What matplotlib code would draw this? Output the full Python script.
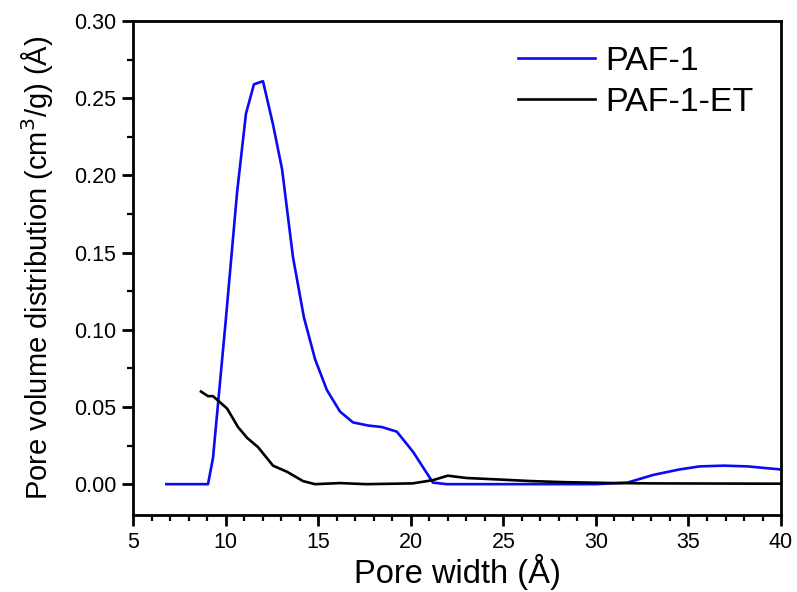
import matplotlib
matplotlib.use("Agg")
import matplotlib.pyplot as plt
from matplotlib.ticker import MultipleLocator

plt.rcParams['font.family'] = ['Liberation Sans', 'DejaVu Sans']

paf1_x = [6.8, 9.05, 9.32, 10.0, 10.62, 11.1, 11.53, 12.02, 12.56, 13.05, 13.64, 14.23,
          14.83, 15.47, 16.18, 16.88, 17.69, 18.44, 19.25, 20.12, 21.2, 21.95, 25.0, 28.0,
          30.0, 31.7, 33.1, 34.5, 35.6, 36.9, 38.2, 40.0]
paf1_y = [0.0, 0.0, 0.017, 0.105, 0.189, 0.240, 0.259, 0.261, 0.233, 0.204, 0.147, 0.108,
          0.081, 0.061, 0.047, 0.040, 0.038, 0.037, 0.034, 0.021, 0.001, 0.0, 0.0, 0.0,
          0.0, 0.001, 0.006, 0.0095, 0.0115, 0.012, 0.0115, 0.0095]

et_x = [8.67, 9.05, 9.32, 10.08, 10.67, 11.16, 11.75, 12.56, 13.32, 14.18, 14.83, 16.18,
        17.6, 20.1, 21.2, 22.0, 23.0, 24.8, 26.5, 28.3, 31.0, 33.0, 40.0]
et_y = [0.060, 0.057, 0.057, 0.049, 0.037, 0.030, 0.024, 0.012, 0.008, 0.002, 0.0, 0.0007,
        0.0, 0.0005, 0.0026, 0.0055, 0.004, 0.003, 0.002, 0.0013, 0.0007, 0.0005, 0.0003]

fig = plt.figure(figsize=(7.97, 5.92), dpi=100)
ax = fig.add_axes([0.1669, 0.130, 0.8131, 0.8345])

ax.plot(paf1_x, paf1_y, color='#0a0af5', lw=1.9, label='PAF-1')
ax.plot(et_x, et_y, color='black', lw=1.9, label='PAF-1-ET')

ax.set_xlim(5, 40)
ax.set_ylim(-0.02, 0.30)
ax.xaxis.set_major_locator(MultipleLocator(5))
ax.xaxis.set_minor_locator(MultipleLocator(1))
ax.yaxis.set_minor_locator(MultipleLocator(0.025))
ax.set_yticks([0, 0.05, 0.10, 0.15, 0.20, 0.25, 0.30])
ax.set_yticklabels(['0.00', '0.05', '0.10', '0.15', '0.20', '0.25', '0.30'])
ax.tick_params(which='major', direction='out', length=8, width=2, labelsize=15.5, pad=4)
ax.tick_params(which='minor', direction='out', length=4, width=1.6)
for s in ax.spines.values():
    s.set_linewidth(2)

ax.set_xlabel('Pore width (Å)', fontsize=23.5, labelpad=1)
ax.set_ylabel('Pore volume distribution (cm$^3$/g) (Å)', fontsize=21, labelpad=14)

ax.legend(loc='upper right', bbox_to_anchor=(0.957, 0.950), frameon=False,
          fontsize=24.5, handlelength=2.26, borderaxespad=0, borderpad=0,
          labelspacing=0.31, handletextpad=0.3)

fig.savefig('out.png', dpi=100)
